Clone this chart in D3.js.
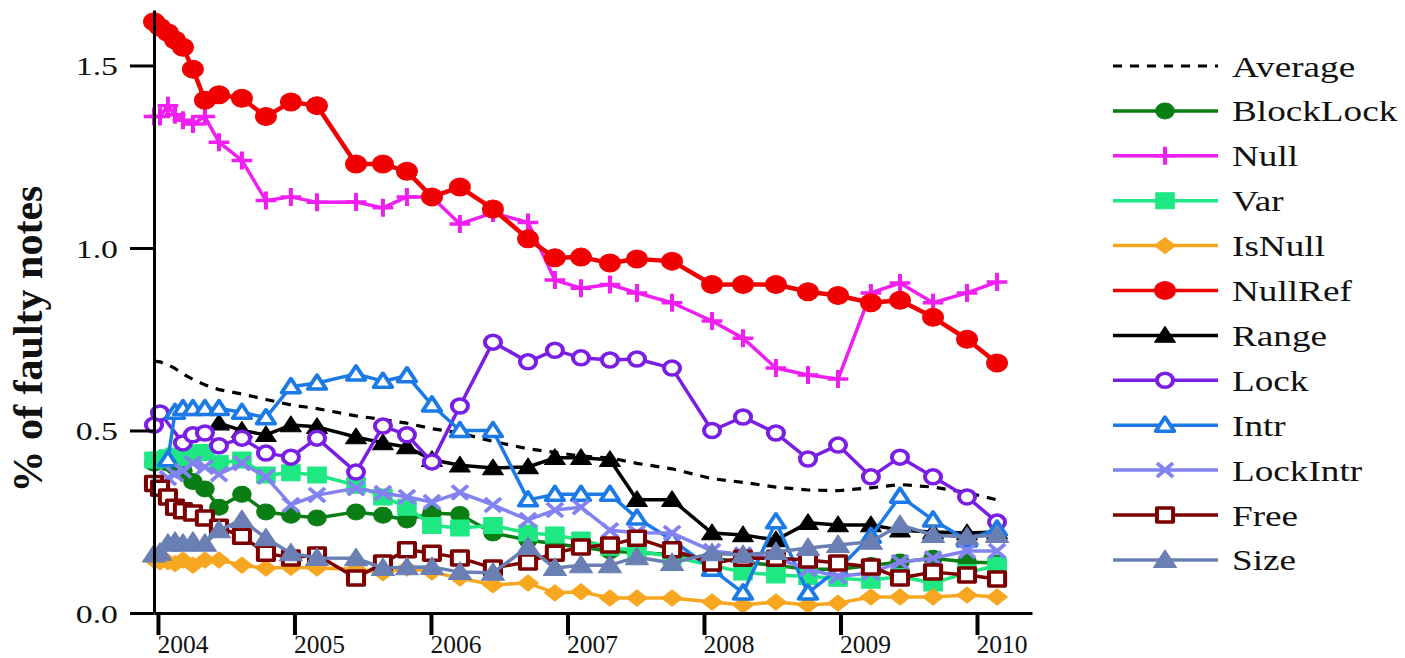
<!DOCTYPE html>
<html>
<head>
<meta charset="utf-8">
<script src="https://cdn.jsdelivr.net/npm/d3@7"></script>
<style>
  html, body { margin: 0; padding: 0; background: #fff; }
  svg { display: block; }
  text { font-family: "Liberation Serif", "DejaVu Serif", serif; fill: #111; }
</style>
</head>
<body>
<svg id="chart" width="1405" height="658"></svg>
<script>
// ---------------- data ----------------
const dates = [2003.971, 2004.015, 2004.073, 2004.125, 2004.183, 2004.256, 2004.344, 2004.447,
  2004.615, 2004.791, 2004.974, 2005.165, 2005.451, 2005.648, 2005.824, 2006.007, 2006.212,
  2006.454, 2006.711, 2006.908, 2007.099, 2007.311, 2007.509, 2007.766, 2008.059, 2008.286,
  2008.527, 2008.762, 2008.982, 2009.223, 2009.436, 2009.678, 2009.927, 2010.147];

const average = [0.69, 0.688, 0.68, 0.67, 0.655, 0.64, 0.625, 0.612, 0.60, 0.585, 0.57, 0.56,
  0.54, 0.53, 0.52, 0.505, 0.493, 0.47, 0.45, 0.44, 0.43, 0.425, 0.41, 0.395, 0.368, 0.358,
  0.345, 0.337, 0.335, 0.343, 0.352, 0.345, 0.33, 0.31];
const blockLock = [0.41, 0.42, 0.41, 0.40, 0.39, 0.36, 0.34, 0.29, 0.325, 0.277, 0.268, 0.26,
  0.277, 0.268, 0.255, 0.274, 0.27, 0.219, 0.20, 0.19, 0.18, 0.17, 0.165, 0.16, 0.15, 0.14,
  0.13, 0.12, 0.12, 0.13, 0.14, 0.15, 0.14, 0.137];
const nullS = [1.36, 1.36, 1.39, 1.365, 1.35, 1.34, 1.36, 1.29, 1.24, 1.13, 1.14, 1.125, 1.126,
  1.11, 1.14, 1.14, 1.066, 1.096, 1.07, 0.912, 0.89, 0.90, 0.877, 0.85, 0.80, 0.753, 0.671,
  0.652, 0.641, 0.877, 0.904, 0.85, 0.877, 0.907];
const varS = [0.419, 0.42, 0.425, 0.43, 0.425, 0.438, 0.44, 0.41, 0.419, 0.378, 0.384, 0.378,
  0.35, 0.318, 0.29, 0.24, 0.233, 0.24, 0.219, 0.214, 0.20, 0.18, 0.17, 0.155, 0.13, 0.112,
  0.104, 0.10, 0.095, 0.09, 0.10, 0.082, 0.11, 0.131];
const isNull = [0.145, 0.14, 0.14, 0.135, 0.145, 0.131, 0.145, 0.145, 0.131, 0.123, 0.125, 0.123,
  0.12, 0.11, 0.123, 0.112, 0.096, 0.077, 0.082, 0.055, 0.058, 0.041, 0.041, 0.041, 0.03, 0.022,
  0.03, 0.022, 0.027, 0.044, 0.044, 0.044, 0.049, 0.044];
const nullRef = [1.62, 1.605, 1.59, 1.57, 1.55, 1.49, 1.405, 1.42, 1.41, 1.36, 1.40, 1.39, 1.23,
  1.23, 1.21, 1.14, 1.167, 1.107, 1.025, 0.973, 0.975, 0.959, 0.97, 0.964, 0.90, 0.90, 0.90,
  0.88, 0.87, 0.85, 0.857, 0.81, 0.75, 0.685];
const range = [null, null, null, null, null, null, null, 0.52, 0.50, 0.488, 0.515, 0.51, 0.482,
  0.466, 0.455, 0.42, 0.405, 0.397, 0.40, 0.425, 0.425, 0.42, 0.31, 0.31, 0.219, 0.214, 0.20,
  0.247, 0.241, 0.241, 0.227, 0.222, 0.219, 0.222];
const lock = [0.515, 0.548, null, null, 0.466, 0.488, 0.493, 0.458, 0.479, 0.438, 0.427, 0.479,
  0.386, 0.512, 0.488, 0.414, 0.567, 0.742, 0.688, 0.72, 0.699, 0.693, 0.696, 0.671, 0.50,
  0.537, 0.493, 0.422, 0.46, 0.373, 0.427, 0.373, 0.318, 0.249];
const intr = [null, null, 0.42, 0.55, 0.56, 0.56, 0.56, 0.56, 0.55, 0.535, 0.62, 0.63, 0.655,
  0.635, 0.65, 0.57, 0.50, 0.50, 0.31, 0.325, 0.325, 0.325, 0.26, 0.20, 0.12, 0.055, 0.25,
  0.055, 0.12, 0.21, 0.32, 0.255, 0.20, 0.23];
const lockIntr = [null, null, 0.37, 0.38, 0.39, 0.41, 0.40, 0.38, 0.41, 0.373, 0.296, 0.323,
  0.342, 0.329, 0.318, 0.304, 0.33, 0.296, 0.255, 0.282, 0.29, 0.227, 0.22, 0.219, 0.17, 0.16,
  0.15, 0.12, 0.10, 0.11, 0.14, 0.15, 0.17, 0.17];
const free = [0.355, 0.342, 0.318, 0.29, 0.28, 0.274, 0.26, 0.235, 0.21, 0.164, 0.151, 0.159,
  0.096, 0.137, 0.173, 0.164, 0.151, 0.123, 0.14, 0.164, 0.181, 0.186, 0.205, 0.173, 0.137,
  0.15, 0.15, 0.145, 0.137, 0.126, 0.096, 0.112, 0.104, 0.093];
const size = [0.16, 0.165, 0.19, 0.195, 0.19, 0.195, 0.19, 0.227, 0.255, 0.205, 0.164, 0.151,
  0.15, 0.123, 0.125, 0.126, 0.112, 0.11, 0.181, 0.123, 0.131, 0.131, 0.153, 0.137, 0.164,
  0.159, 0.167, 0.178, 0.186, 0.195, 0.241, 0.214, 0.208, 0.214];

const seriesNames = ["Average", "BlockLock", "Null", "Var", "IsNull", "NullRef", "Range",
  "Lock", "Intr", "LockIntr", "Free", "Size"];
const seriesValues = [average, blockLock, nullS, varS, isNull, nullRef, range, lock, intr,
  lockIntr, free, size];
const xTicks = [2004, 2005, 2006, 2007, 2008, 2009, 2010];
const yTicks = [0, 0.5, 1.0, 1.5];
const yLabel = "% of faulty notes";

// ---------------- styles ----------------
const styles = {
  Average:  { color: "#000000", width: 3.2, dash: "9,8", marker: null },
  BlockLock:{ color: "#0a7d14", width: 3.5, marker: "circle", r: 8, fill: true },
  Null:     { color: "#f01ef0", width: 3.5, marker: "plus", r: 9 },
  Var:      { color: "#1ee882", width: 3.5, marker: "square", r: 8, fill: true },
  IsNull:   { color: "#f7a620", width: 3.5, marker: "diamond", r: 9, fill: true },
  NullRef:  { color: "#f00000", width: 4.5, marker: "circle", r: 9, fill: true },
  Range:    { color: "#000000", width: 3.5, marker: "triangle", r: 9, fill: true },
  Lock:     { color: "#7a1ee6", width: 3.5, marker: "circle", r: 7, fill: false },
  Intr:     { color: "#1c7ae6", width: 3.5, marker: "triangle", r: 8, fill: false },
  LockIntr: { color: "#8282f0", width: 3.5, marker: "x", r: 7 },
  Free:     { color: "#7d0000", width: 3.5, marker: "square", r: 7, fill: false },
  Size:     { color: "#6a7fb3", width: 3.5, marker: "triangle", r: 10, fill: true }
};

function markerPath(type, r) {
  switch (type) {
    case "circle": return d3.symbol(d3.symbolCircle, Math.PI * r * r)();
    case "square": return `M${-r},${-r}H${r}V${r}H${-r}Z`;
    case "diamond": return `M0,${-r * 0.9}L${r},0L0,${r * 0.9}L${-r},0Z`;
    case "triangle": return `M0,${-r}L${r},${r * 0.75}L${-r},${r * 0.75}Z`;
    case "plus": return `M${-r},0H${r}M0,${-r}V${r}`;
    case "x": return `M${-r},${-r}L${r},${r}M${-r},${r}L${r},${-r}`;
  }
  return "";
}
function styleMarker(sel, st) {
  const lineOnly = st.marker === "plus" || st.marker === "x";
  sel.attr("d", markerPath(st.marker, st.r))
    .attr("fill", lineOnly ? "none" : (st.fill ? st.color : "#ffffff"))
    .attr("stroke", st.color)
    .attr("stroke-width", lineOnly ? 3.5 : (st.fill ? 1 : 3.5))
    .attr("stroke-linejoin", "round");
}

// ---------------- chart ----------------
const svg = d3.select("#chart");
const x = d3.scaleLinear().domain([2003.971, 2010.403]).range([154, 1032]);
const y = d3.scaleLinear().domain([0, 1.652]).range([613, 10]);
const MS = 1.15; // horizontal marker stretch

const line = d3.line().x(d => x(d.t)).y(d => y(d.v));

seriesNames.forEach((name, i) => {
  const st = styles[name];
  const pts = dates.map((t, j) => ({ t, v: seriesValues[i][j] })).filter(d => d.v != null);
  const g = svg.append("g").attr("class", "series");
  g.append("path").datum(pts)
    .attr("d", line)
    .attr("fill", "none")
    .attr("stroke", st.color)
    .attr("stroke-width", st.width)
    .attr("stroke-linejoin", "round")
    .attr("stroke-dasharray", st.dash || null);
  if (st.marker) {
    g.selectAll("path.m").data(pts).join("path")
      .attr("class", "m")
      .attr("transform", d => `translate(${x(d.t)},${y(d.v)}) scale(${MS},1)`)
      .call(styleMarker, st);
  }
});

// axes
const xAxis = svg.append("g").attr("transform", "translate(0,613)")
  .call(d3.axisBottom(x).tickValues(xTicks).tickFormat(d3.format("d")).tickSize(22).tickSizeOuter(0));
xAxis.select(".domain").attr("stroke", "#000").attr("stroke-width", 3);
xAxis.selectAll(".tick line").attr("stroke", "#000").attr("stroke-width", 4);
xAxis.selectAll(".tick text")
  .attr("x", -1).attr("y", 40).attr("dy", null)
  .attr("text-anchor", "start")
  .style("font-family", '"Liberation Serif", serif')
  .style("font-size", "25.5px").attr("fill", "#222");

const yAxis = svg.append("g").attr("transform", "translate(154,0)")
  .call(d3.axisLeft(y).tickValues(yTicks).tickFormat(d3.format(".1f")).tickSize(24).tickSizeOuter(0));
yAxis.select(".domain").attr("stroke", "#000").attr("stroke-width", 3);
yAxis.selectAll(".tick line").attr("stroke", "#000").attr("stroke-width", 3);
yAxis.selectAll(".tick text")
  .attr("x", 0).attr("dy", "0.35em")
  .attr("transform", "translate(-36,0) scale(1.3,1)")
  .attr("text-anchor", "end")
  .style("font-family", '"Liberation Serif", serif')
  .style("font-size", "26px").attr("fill", "#222");

svg.append("text")
  .attr("transform", "translate(42,339) rotate(-90)")
  .attr("text-anchor", "middle")
  .style("font-size", "42px").style("font-weight", "bold")
  .text(yLabel);

// legend
const legend = svg.append("g");
seriesNames.forEach((name, i) => {
  const st = styles[name];
  const ly = 66 + i * 44.9;
  const g = legend.append("g").attr("transform", `translate(0,${ly})`);
  g.append("line").attr("x1", 1113).attr("x2", 1218).attr("y1", 0).attr("y2", 0)
    .attr("stroke", st.color).attr("stroke-width", st.dash ? 3 : 3.5)
    .attr("stroke-dasharray", st.dash || null);
  if (st.marker) {
    g.append("path").attr("transform", `translate(1165,0) scale(${MS},1)`).call(styleMarker, st);
  }
  g.append("text")
    .attr("transform", "translate(1232,0) scale(1.24,1)")
    .attr("dy", "0.35em")
    .style("font-size", "30px")
    .text(name);
});
</script>
</body>
</html>
